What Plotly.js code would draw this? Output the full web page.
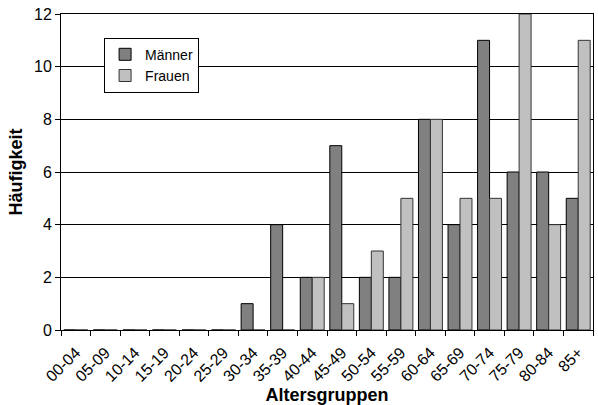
<!DOCTYPE html>
<html><head><meta charset="utf-8">
<script src="https://cdn.plot.ly/plotly-3.0.1.min.js"></script>
<style>body{margin:0;background:#fff}#c{width:598px;height:405px}</style>
</head><body><div id="c"></div>
<script>
const categories = ["00-04","05-09","10-14","15-19","20-24","25-29","30-34","35-39","40-44","45-49","50-54","55-59","60-64","65-69","70-74","75-79","80-84","85+"];
const maenner = [0,0,0,0,0,0,1,4,2,7,2,2,8,4,11,6,6,5];
const frauen  = [0,0,0,0,0,0,0,0,2,1,3,5,8,5,5,12,4,11];
const yTicks = [0,2,4,6,8,10,12];

const fam = "Liberation Sans, Arial, sans-serif";
const data = [
  {type: "bar", name: "Männer", x: categories, y: maenner,
   marker: {color: "#808080", line: {color: "#000", width: 1}}},
  {type: "bar", name: "Frauen", x: categories, y: frauen,
   marker: {color: "#c0c0c0", line: {color: "#333", width: 1}}}
];
const layout = {
  width: 598, height: 405,
  margin: {l: 61, r: 5, t: 14, b: 75},
  paper_bgcolor: "#fff", plot_bgcolor: "#fff",
  font: {family: fam, size: 14, color: "#000"},
  barmode: "group", bargap: 0.19, bargroupgap: 0,
  showlegend: true,
  legend: {x: 0.081, y: 0.925, xanchor: "left", yanchor: "top",
    bgcolor: "#fff", bordercolor: "#000", borderwidth: 1,
    font: {family: fam, size: 14, color: "#000"},
    itemwidth: 30, tracegroupgap: 0},
  xaxis: {type: "category", tickangle: -45, tickson: "boundaries",
    ticks: "outside", ticklen: 5, tickcolor: "#000", ticklabelstandoff: 6,
    showline: true, linecolor: "#000", linewidth: 1, mirror: true,
    showgrid: false, tickfont: {family: fam, size: 16, color: "#000"},
    title: {text: "Altersgruppen", font: {family: fam, size: 18, weight: "bold"}, standoff: 0}},
  yaxis: {range: [0, 12], tickvals: yTicks, ticks: "outside", ticklen: 5, tickcolor: "#000",
    showline: true, linecolor: "#000", linewidth: 1, mirror: true,
    showgrid: true, gridcolor: "#000", gridwidth: 1, zeroline: false,
    tickfont: {family: fam, size: 16, color: "#000"},
    title: {text: "Häufigkeit", font: {family: fam, size: 18, weight: "bold"}, standoff: 6}}
};
Plotly.newPlot("c", data, layout, {displayModeBar: false, staticPlot: true});
</script></body></html>
